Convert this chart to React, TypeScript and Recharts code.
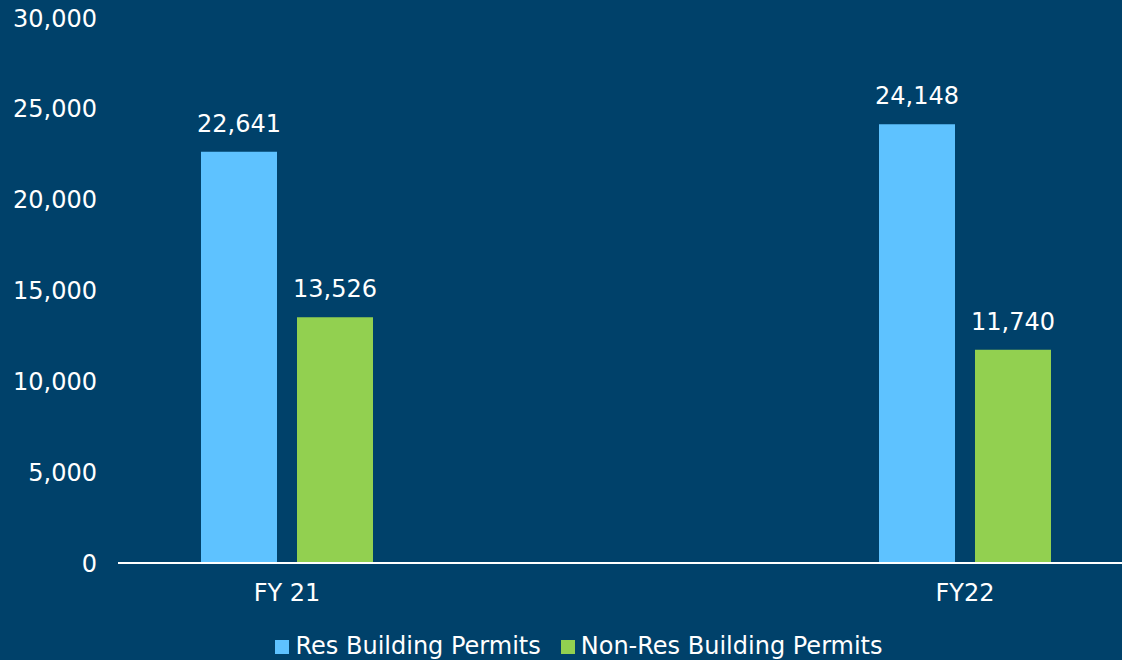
import React from 'react';
import {
  BarChart,
  Bar,
  XAxis,
  YAxis,
  Legend,
  LabelList,
} from 'recharts';

const categories = ['FY 21', 'FY22'];
const resPermits = [22641, 24148];
const nonResPermits = [13526, 11740];
const yTicks = [0, 5000, 10000, 15000, 20000, 25000, 30000];
const seriesOrder = ['res', 'nonRes'];

const data = categories.map((name, i) => ({
  name,
  res: resPermits[i],
  nonRes: nonResPermits[i],
}));

const FONT = '"DejaVu Sans", sans-serif';
const BG = '#00416A';
const FS = 24;

const fmt = (v: any) => Number(v).toLocaleString('en-US');

const App: React.FC = () => {
  return (
    <div
      style={{
        position: 'absolute',
        left: 0,
        top: 0,
        width: 1122,
        height: 660,
        background: BG,
        fontFamily: FONT,
      }}
    >
      <BarChart
        width={1122}
        height={660}
        data={data}
        margin={{ top: 18, right: 0, left: 0, bottom: 0 }}
        barGap={20}
        barSize={76}
      >
        <XAxis
          dataKey="name"
          height={70}
          padding={{ left: -170, right: -182 }}
          axisLine={{ stroke: '#ffffff', strokeWidth: 2 }}
          tickLine={false}
          tickSize={0}
          tickMargin={21}
          tick={{ fill: '#ffffff', fontSize: FS, fontFamily: FONT }}
        />
        <YAxis
          width={118}
          domain={[0, 30000]}
          ticks={yTicks}
          tickFormatter={fmt}
          axisLine={false}
          tickLine={false}
          tickSize={0}
          tickMargin={21}
          tick={{ fill: '#ffffff', fontSize: FS, fontFamily: FONT }}
        />
        <Legend
          verticalAlign="bottom"
          align="center"
          iconType="square"
          iconSize={14}
          itemSorter={(item: any) => seriesOrder.indexOf(item.dataKey)}
          wrapperStyle={{
            fontSize: FS,
            fontFamily: FONT,
            lineHeight: '27px',
            paddingLeft: 56,
            boxSizing: 'border-box',
          }}
          formatter={(value: any) => (
            <span style={{ color: '#ffffff', marginLeft: 2, marginRight: 10 }}>{value}</span>
          )}
        />
        <Bar
          dataKey="res"
          name="Res Building Permits"
          fill="#5EC2FF"
          isAnimationActive={false}
        >
          <LabelList
            dataKey="res"
            position="top"
            offset={20}
            formatter={fmt}
            fill="#ffffff"
            fontSize={FS}
            fontFamily={FONT}
          />
        </Bar>
        <Bar
          dataKey="nonRes"
          name="Non-Res Building Permits"
          fill="#92D050"
          isAnimationActive={false}
        >
          <LabelList
            dataKey="nonRes"
            position="top"
            offset={20}
            formatter={fmt}
            fill="#ffffff"
            fontSize={FS}
            fontFamily={FONT}
          />
        </Bar>
      </BarChart>
    </div>
  );
};

export default App;
